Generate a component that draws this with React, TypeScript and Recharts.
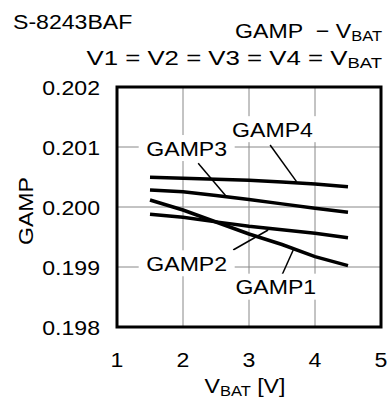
import React from "react";
import { LineChart, Line, XAxis, YAxis, CartesianGrid, ReferenceArea, ReferenceLine, ReferenceDot } from "recharts";

// V_BAT sample points and GAMP readings per amp
const vbat = [1.5, 2, 2.5, 3, 3.5, 4, 4.5];
const gamp1 = [0.200117, 0.19995, 0.19975, 0.19955, 0.199375, 0.199172, 0.199022];
const gamp2 = [0.199878, 0.199828, 0.199752, 0.199678, 0.19962, 0.199562, 0.199488];
const gamp3 = [0.200283, 0.200255, 0.20019, 0.200125, 0.200052, 0.199978, 0.199912];
const gamp4 = [0.200495, 0.200478, 0.200462, 0.200445, 0.200415, 0.200383, 0.200338];

const xTicks = [1, 2, 3, 4, 5];
const yTicks = [0.198, 0.199, 0.2, 0.201, 0.202];

// callout labels + leader lines (data coords)
const seriesNames = ["GAMP1", "GAMP2", "GAMP3", "GAMP4"];
const labelX = [3.406, 2.056, 2.056, 3.356];
const labelY = [0.198672, 0.199062, 0.200983, 0.201297];
const leaderFrom = [[3.5, 0.198867], [2.76, 0.199283], [2.23, 0.200728], [3.32, 0.201033]];
const leaderTo = [[3.67, 0.199283], [3.29, 0.199617], [2.66, 0.200172], [3.72, 0.200422]];

const FONT = "Arial, 'Liberation Sans', sans-serif";
const SX = 1.1; // source text is a bit wide

const rows = vbat.map((x, i) => ({ x, GAMP1: gamp1[i], GAMP2: gamp2[i], GAMP3: gamp3[i], GAMP4: gamp4[i] }));

const XTick = ({ x, y, payload }: any) => (
  <g transform={`translate(${x},${y + 40}) scale(${SX},1)`}>
    <text textAnchor="middle" fontSize={21} fontFamily={FONT} fill="#000">{payload.value}</text>
  </g>
);

const YTick = ({ x, y, payload }: any) => (
  <g transform={`translate(${x - 17},${y + 7.5}) scale(${SX},1)`}>
    <text textAnchor="end" fontSize={21} fontFamily={FONT} fill="#000">{Number(payload.value).toFixed(3)}</text>
  </g>
);

const CalloutLabel = (name: string) => (props: any) => {
  const { cx, cy } = props;
  return (
    <g>
      <rect x={cx - 48} y={cy - 13} width={96} height={26} fill="#fff" />
      <g transform={`translate(${cx},${cy + 7.5}) scale(${SX},1)`}>
        <text textAnchor="middle" fontSize={21} fontFamily={FONT} fill="#000">{name}</text>
      </g>
    </g>
  );
};

export default function App() {
  return (
    <div style={{ position: "absolute", left: 0, top: 0, width: 389, height: 400, background: "#fff" }}>
      <LineChart width={389} height={400} data={rows} margin={{ top: 87, right: 8, bottom: 0, left: 0 }}>
        <CartesianGrid stroke="#888" strokeWidth={1} />
        <XAxis
          type="number"
          dataKey="x"
          domain={[1, 5]}
          ticks={xTicks}
          height={73}
          tickSize={0}
          tickMargin={0}
          axisLine={false}
          tick={<XTick />}
          label={{
            content: ({ viewBox }: any) => (
              <g transform={`translate(${viewBox.x + viewBox.width / 2 - 4},${viewBox.y + 66}) scale(${SX},1)`}>
                <text textAnchor="middle" fontSize={21} fontFamily={FONT} fill="#000">
                  V<tspan fontSize={15} dy={3}>BAT</tspan><tspan dy={-3}>{"\u00A0[V]"}</tspan>
                </text>
              </g>
            ),
          }}
        />
        <YAxis
          type="number"
          domain={[0.198, 0.202]}
          ticks={yTicks}
          width={117}
          tickSize={0}
          tickMargin={0}
          axisLine={false}
          tick={<YTick />}
          label={{
            content: ({ viewBox }: any) => (
              <g transform={`translate(32.5,${viewBox.y + viewBox.height / 2 + 4}) rotate(-90) scale(${SX},1)`}>
                <text textAnchor="middle" fontSize={21} fontFamily={FONT} fill="#000">GAMP</text>
              </g>
            ),
          }}
        />
        {seriesNames.map((n, i) => (
          <ReferenceLine
            key={"lead" + n}
            segment={[{ x: leaderFrom[i][0], y: leaderFrom[i][1] }, { x: leaderTo[i][0], y: leaderTo[i][1] }]}
            stroke="#000"
            strokeWidth={1.5}
          />
        ))}
        {seriesNames.map((n, i) => (
          <ReferenceDot key={"lbl" + n} x={labelX[i]} y={labelY[i]} r={0} shape={CalloutLabel(n)} />
        ))}
        {seriesNames.map((n) => (
          <Line key={n} type="linear" dataKey={n} stroke="#000" strokeWidth={3.5} dot={false} isAnimationActive={false} />
        ))}
        <ReferenceArea x1={1} x2={5} y1={0.198} y2={0.202} fill="none" stroke="#000" strokeWidth={3} />
      </LineChart>
      <svg width={389} height={400} style={{ position: "absolute", left: 0, top: 0, pointerEvents: "none" }}>
        <g transform={`translate(13,29) scale(${SX},1)`}>
          <text fontSize={21} fontFamily={FONT} fill="#000">S-8243BAF</text>
        </g>
        <g transform={`translate(382,38) scale(${SX},1)`}>
          <text textAnchor="end" fontSize={21} fontFamily={FONT} fill="#000">
            {"GAMP\u00A0\u00A0\u2212\u00A0V"}<tspan fontSize={15} dy={3}>BAT</tspan>
          </text>
        </g>
        <g transform={`translate(382,65) scale(1.23,1)`}>
          <text textAnchor="end" fontSize={21} fontFamily={FONT} fill="#000">
            {"V1 = V2 = V3 = V4 = V"}<tspan fontSize={15} dy={3}>BAT</tspan>
          </text>
        </g>
      </svg>
    </div>
  );
}
